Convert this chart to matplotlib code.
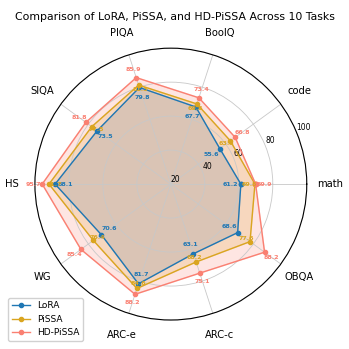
import numpy as np
import matplotlib
matplotlib.use("Agg")
import matplotlib.pyplot as plt

# task names, counterclockwise starting from the right
tasks = ['math', 'code', 'BoolQ', 'PIQA', 'SIQA', 'HS', 'WG', 'ARC-e', 'ARC-c', 'OBQA']

lora = [61.2, 55.6, 67.7, 79.8, 73.5, 88.1, 70.6, 81.7, 63.1, 68.6]
pissa = [69.5, 63.3, 69.6, 81.3, 77.5, 91.7, 76.4, 84.6, 68.2, 77.6]
hd_pissa = [69.9, 66.8, 73.4, 85.9, 81.8, 95.7, 85.4, 88.2, 75.1, 88.2]

r_ticks = [20, 40, 60, 80, 100]

angles = np.linspace(0, 2 * np.pi, len(tasks), endpoint=False)
angles_closed = np.append(angles, angles[0])

fig = plt.figure(figsize=(3.49, 3.49), dpi=100)
ax = fig.add_axes([0.100, 0.083, 0.779, 0.779], polar=True)

series = [
    ('LoRA', lora, '#1f77b4', -6),
    ('PiSSA', pissa, '#DAA520', -3),
    ('HD-PiSSA', hd_pissa, '#FA8072', 5),
]

for name, vals, color, off in series:
    v = np.append(vals, vals[0])
    ax.plot(angles_closed, v, color=color, linewidth=1, marker='o', markersize=3, label=name)
    ax.fill(angles_closed, v, color=color, alpha=0.2)
    # value labels next to each point
    for a, val in zip(angles, vals):
        ax.text(a, val + off, f'{val:.1f}', color=color, fontsize=4.6,
                fontweight='bold', ha='center', va='center')

ax.set_ylim(20, 100)
ax.set_yticks(r_ticks)
ax.set_yticklabels([str(t) for t in r_ticks], fontsize=5.5)
ax.set_rlabel_position(22.5)
ax.set_xticks(angles)
ax.set_xticklabels(tasks, fontsize=7.2)
ax.tick_params(axis='x', pad=6)
ax.grid(color='#c8c8c8', linewidth=0.6)
ax.spines['polar'].set_linewidth(0.8)

fig.suptitle('Comparison of LoRA, PiSSA, and HD-PiSSA Across 10 Tasks', fontsize=7.8, y=0.965)
fig.legend(loc='lower left', bbox_to_anchor=(0.01, 0.01), fontsize=6.5, framealpha=0.9)

plt.savefig('out.png', dpi=100)
